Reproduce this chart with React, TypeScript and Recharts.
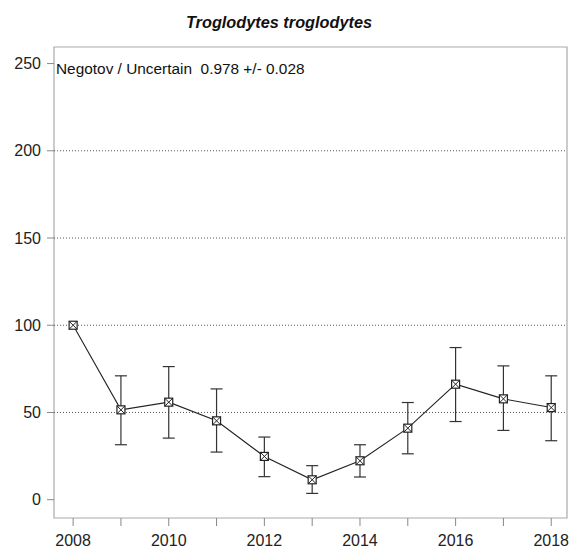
import React from 'react';
import { ComposedChart, Line, XAxis, YAxis, ErrorBar, ReferenceLine, ReferenceArea } from 'recharts';

const years = [2008, 2009, 2010, 2011, 2012, 2013, 2014, 2015, 2016, 2017, 2018];
const values = [100, 51.5, 55.9, 45.2, 24.8, 11.4, 22.3, 41.0, 66.2, 57.8, 52.8];
const lows = [null, 31.5, 35.3, 27.3, 13.2, 3.6, 13.0, 26.3, 44.8, 39.7, 33.8];
const highs = [null, 71.0, 76.3, 63.5, 35.9, 19.5, 31.5, 55.7, 87.2, 76.7, 71.0];
const yTicks = [0, 50, 100, 150, 200, 250];
const gridValues = [50, 100, 150, 200];
const titleText = 'Troglodytes troglodytes';
const noteText = 'Negotov / Uncertain  0.978 +/- 0.028';

const data = years.map((year, i) => ({
  year,
  value: values[i],
  err: lows[i] === null ? undefined : [values[i] - (lows[i] as number), (highs[i] as number) - values[i]],
}));

const FONT = '"Liberation Sans", Arial, sans-serif';

const Marker = (props: any) => {
  const { cx, cy } = props;
  if (cx == null || cy == null) return null;
  const s = 4;
  return (
    <g>
      <rect x={cx - s} y={cy - s} width={2 * s} height={2 * s} fill="#fff" stroke="#222" strokeWidth={1.2} />
      <line x1={cx - s} y1={cy - s} x2={cx + s} y2={cy + s} stroke="#222" strokeWidth={1} />
      <line x1={cx - s} y1={cy + s} x2={cx + s} y2={cy - s} stroke="#222" strokeWidth={1} />
    </g>
  );
};

export default function App() {
  return (
    <div style={{ position: 'absolute', left: 0, top: 0, width: 571, height: 549, background: '#fff' }}>
      <ComposedChart
        width={571}
        height={549}
        data={data}
        margin={{ top: 47, right: 4, bottom: 0, left: 0 }}
      >
        <XAxis
          dataKey="year"
          type="number"
          domain={[2007.6, 2018.33]}
          allowDataOverflow
          ticks={years}
          tickFormatter={(v: number) => (v % 2 === 0 ? String(v) : '')}
          height={31}
          axisLine={false}
          tickLine={{ stroke: '#888' }}
          tickSize={8}
          tickMargin={9}
          tick={{ fontSize: 16, fill: '#222', fontFamily: FONT }}
        />
        <YAxis
          type="number"
          domain={[-10.5, 259.5]}
          allowDataOverflow
          ticks={yTicks}
          width={54}
          axisLine={false}
          tickLine={{ stroke: '#888' }}
          tickSize={7}
          tickMargin={6}
          tick={{ fontSize: 16, fill: '#222', fontFamily: FONT }}
        />
        {gridValues.map((g) => (
          <ReferenceLine key={g} y={g} stroke="#555" strokeDasharray="1 2" strokeWidth={1} />
        ))}
        <ReferenceArea
          x1={2007.6}
          x2={2018.33}
          y1={-10.5}
          y2={259.5}
          fill="none"
          fillOpacity={0}
          stroke="#aaa"
          strokeWidth={1.2}
          ifOverflow="visible"
        />
        <Line
          dataKey="value"
          type="linear"
          stroke="#222"
          strokeWidth={1.1}
          dot={<Marker />}
          activeDot={false}
          isAnimationActive={false}
        >
          <ErrorBar dataKey="err" width={6} stroke="#333" strokeWidth={1.2} direction="y" isAnimationActive={false} />
        </Line>
      </ComposedChart>
      <svg width={571} height={549} style={{ position: 'absolute', left: 0, top: 0, pointerEvents: 'none' }}>
        <text x={279} y={28} textAnchor="middle" fontFamily={FONT} fontSize={16.3} fontWeight="bold" fontStyle="italic" fill="#111">
          {titleText}
        </text>
        <text x={56} y={74} fontFamily={FONT} fontSize={15.4} fill="#111" style={{ whiteSpace: 'pre' }}>
          {noteText}
        </text>
      </svg>
    </div>
  );
}
